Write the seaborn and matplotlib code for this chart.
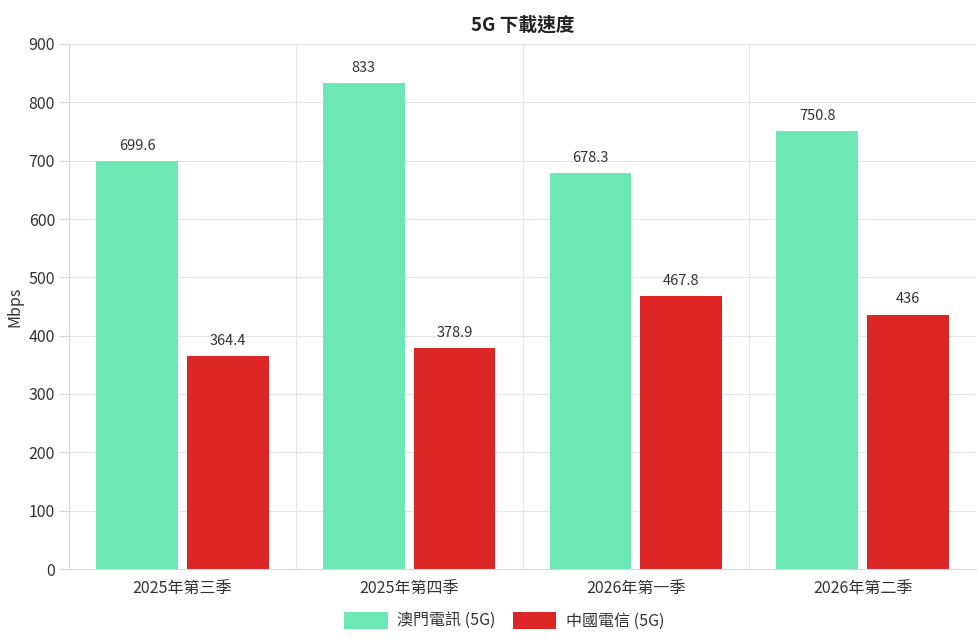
import pandas as pd
import seaborn as sns
import matplotlib.pyplot as plt

quarters = ["2025年第三季", "2025年第四季", "2026年第一季", "2026年第二季"]
series = ["澳門電訊 (5G)", "中國電信 (5G)"]
ctm_speed = [699.6, 833, 678.3, 750.8]
ct_speed = [364.4, 378.9, 467.8, 436]
colors = ["#6EE7B7", "#DC2626"]

df = pd.DataFrame({
    "quarter": quarters * 2,
    "operator": [series[0]] * 4 + [series[1]] * 4,
    "speed": ctm_speed + ct_speed,
})

sns.set_theme(style="white")
plt.rcParams["font.family"] = ["Noto Sans CJK TC", "DejaVu Sans"]

fig = plt.figure(figsize=(9.77, 6.38), dpi=100)
ax = fig.add_axes([69 / 977, 1 - 569 / 638, 1 - 69 / 977 - 0.001, (569 - 44) / 638])

sns.barplot(data=df, x="quarter", y="speed", hue="operator", palette=colors,
            width=0.8, gap=0.1, saturation=1, linewidth=0, ax=ax, legend=True)

for cont in ax.containers:
    labels = [f"{v:g}" for v in cont.datavalues]
    ax.bar_label(cont, labels=labels, padding=6, fontsize=10.5, color="#333333")

ax.set_ylim(0, 900)
ax.set_xlim(-0.5, 3.5)
ax.set_yticks(range(0, 901, 100))
ax.set_xlabel("")
ax.set_ylabel("Mbps", fontsize=11.5, color="#333333")

# gridlines: horizontal at y ticks, vertical at category boundaries
for y in range(100, 901, 100):
    ax.axhline(y, color="#e5e5e5", lw=0.8, zorder=0)
for x in [0.5, 1.5, 2.5]:
    ax.axvline(x, color="#e5e5e5", lw=0.8, zorder=0)
ax.set_axisbelow(True)

ax.set_xticks([0, 1, 2, 3])
ax.set_xticks([-0.5, 0.5, 1.5, 2.5, 3.5], minor=True)
ax.tick_params(axis="x", which="major", length=0, labelsize=11.5, labelcolor="#333333", pad=8)
ax.tick_params(axis="x", which="minor", length=8, color="#d9d9d9", width=0.8)
ax.tick_params(axis="y", length=7, color="#d9d9d9", width=0.8, labelsize=11.5,
               labelcolor="#333333", pad=3, left=True)

for s in ["top", "right"]:
    ax.spines[s].set_visible(False)
for s in ["left", "bottom"]:
    ax.spines[s].set_color("#d9d9d9")
    ax.spines[s].set_linewidth(0.8)

ax.set_title("5G 下載速度", fontsize=13.5, fontweight="bold", color="#222222", pad=10)

ax.legend(loc="upper center", bbox_to_anchor=(0.5 - 0.02, -0.055), ncol=2, frameon=False,
          fontsize=11.5, handlelength=2.7, handleheight=1.2, columnspacing=1.1,
          handletextpad=0.6, labelcolor="#333333")

fig.savefig("out.png", dpi=100)
